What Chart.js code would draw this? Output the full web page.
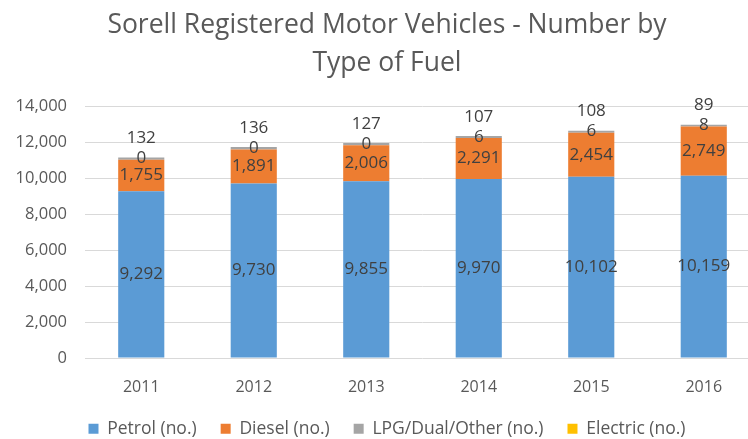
<!DOCTYPE html>
<html>
<head>
<meta charset="utf-8">
<script src="https://cdn.jsdelivr.net/npm/chart.js@4"></script>
<style>
  html, body { margin: 0; padding: 0; background: #fff; overflow: hidden; }
  #wrap { width: 760px; height: 439px; }
</style>
</head>
<body>
<div id="wrap"><canvas id="fuelChart"></canvas></div>
<script>
const years = ['2011', '2012', '2013', '2014', '2015', '2016'];
const petrol = [9292, 9730, 9855, 9970, 10102, 10159];
const diesel = [1755, 1891, 2006, 2291, 2454, 2749];
const lpgOther = [132, 136, 127, 107, 108, 89];
const electric = [0, 0, 0, 6, 6, 8];
const yTicks = [0, 2000, 4000, 6000, 8000, 10000, 12000, 14000];

const fontFamily = "'Open Sans', 'Liberation Sans', sans-serif";
const fmt = v => v.toLocaleString('en-US');

// draw the value labels like the Excel original
const valueLabels = {
  id: 'valueLabels',
  afterDatasetsDraw(chart) {
    const ctx = chart.ctx;
    ctx.save();
    ctx.font = '17px ' + fontFamily;
    ctx.fillStyle = '#404040';
    ctx.textAlign = 'center';
    ctx.textBaseline = 'middle';
    chart.data.datasets.forEach((ds, di) => {
      const meta = chart.getDatasetMeta(di);
      meta.data.forEach((bar, i) => {
        let y;
        const top = chart.getDatasetMeta(3).data[i].y;
        if (di === 0 || di === 1) y = (bar.y + bar.base) / 2;
        else if (di === 3) y = top + 1;
        else y = top - 19;
        ctx.fillText(fmt(ds.data[i]), bar.x, y);
      });
    });
    ctx.restore();
  }
};

// keep the legend box short so it sits close under the axis labels
const legendHeight = {
  id: 'legendHeight',
  beforeInit(chart) {
    const legend = chart.legend;
    if (!legend) return;
    const fit = legend.fit;
    legend.fit = function () {
      fit.call(this);
      this.height = 43;
    };
  }
};

new Chart(document.getElementById('fuelChart'), {
  type: 'bar',
  data: {
    labels: years,
    datasets: [
      { label: 'Petrol (no.)', data: petrol, backgroundColor: '#5B9BD5' },
      { label: 'Diesel (no.)', data: diesel, backgroundColor: '#ED7D31' },
      { label: 'LPG/Dual/Other (no.)', data: lpgOther, backgroundColor: '#A5A5A5' },
      { label: 'Electric (no.)', data: electric, backgroundColor: '#FFC000' }
    ]
  },
  options: {
    responsive: true,
    maintainAspectRatio: false,
    animation: false,
    layout: { padding: { left: 14, right: 0, top: 7, bottom: 0 } },
    datasets: { bar: { barPercentage: 0.41, categoryPercentage: 1 } },
    scales: {
      x: {
        stacked: true,
        grid: { display: false, drawTicks: false },
        border: { display: false },
        ticks: { color: '#595959', font: { family: fontFamily, size: 16 }, padding: 20 },
        afterFit: axis => { axis.height = 38; }
      },
      y: {
        stacked: true,
        min: 0,
        max: 14000,
        afterBuildTicks: axis => { axis.ticks = yTicks.map(v => ({ value: v })); },
        afterFit: axis => { axis.width = 71; },
        grid: { color: '#d9d9d9', drawTicks: false },
        border: { display: false },
        ticks: {
          color: '#595959',
          font: { family: fontFamily, size: 16.5 },
          padding: 18,
          callback: v => fmt(v)
        }
      }
    },
    plugins: {
      title: {
        display: true,
        text: ['Sorell Registered Motor Vehicles - Number by', 'Type of Fuel'],
        color: '#595959',
        font: { family: fontFamily, size: 26.5, weight: 'normal', lineHeight: 1.43 },
        padding: { top: 0, bottom: 24 }
      },
      legend: {
        position: 'bottom',
        labels: {
          color: '#595959',
          font: { family: fontFamily, size: 17.5 },
          boxWidth: 10,
          boxHeight: 10,
          padding: 24
        }
      },
      tooltip: { enabled: false }
    }
  },
  plugins: [valueLabels, legendHeight]
});
</script>
</body>
</html>
